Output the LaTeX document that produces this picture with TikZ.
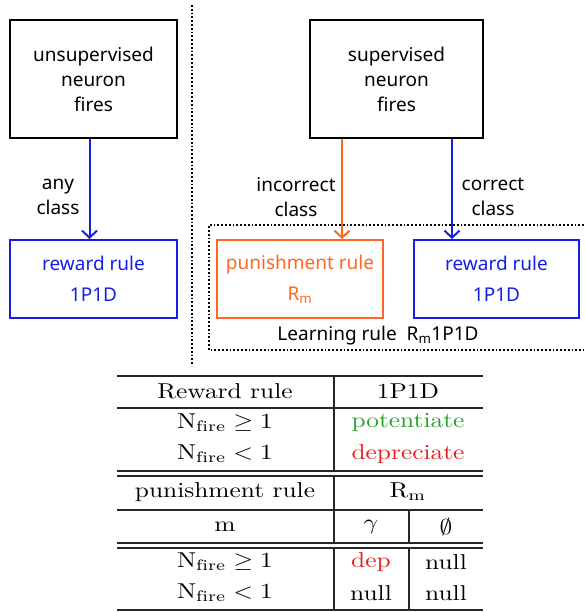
\documentclass[tikz,border=0pt]{standalone}
\usepackage{fontspec}
\newfontfamily\diagfont{Noto Sans}
\usetikzlibrary{arrows.meta}
\definecolor{rewblue}{RGB}{20,30,230}
\definecolor{punorange}{RGB}{255,102,34}
\definecolor{potgreen}{RGB}{40,160,40}
\definecolor{depred}{RGB}{230,30,30}
\newcommand{\tabcell}[1]{\scalebox{2.54}[2.15]{#1}}
\begin{document}
\begin{tikzpicture}[x=1pt, y=-1pt,
    every node/.style={inner sep=0pt},
    sanstext/.style={font=\diagfont\fontsize{19}{25}\selectfont, align=center},
    firebox/.style={sanstext, draw=black, line width=2pt},
    rulebox/.style={sanstext, line width=2pt, minimum width=166, minimum height=78},
    classarrow/.style={line width=2pt, -{Straight Barb[length=7pt, width=15pt, line width=2pt]}},
    tabline/.style={line width=1.3pt, draw=black!85}]
    \useasboundingbox (0,0) rectangle (584,612);

    % left half
    \node[firebox, minimum width=167, minimum height=118] (unsup) at (93.5,79) {unsupervised\\neuron\\fires};
    \node[rulebox, draw=rewblue, text=rewblue, minimum width=167] (lrew) at (93.5,279) {reward rule\\[6pt]1P1D};
    \draw[classarrow, rewblue] ([xshift=-4]unsup.south) -- ([xshift=-4]lrew.north);
    \node[sanstext] (anycls) at (58,197) {any\\class};

    % separator
    \draw[dotted, line width=1.8pt] (192,5) coordinate (septop) -- (192,365) coordinate (sepbot);

    % right half
    \node[firebox, minimum width=173, minimum height=118] (sup) at (396.5,79) {supervised\\neuron\\fires};
    \node[rulebox, draw=punorange, text=punorange] (pun) at (300,279) {punishment rule\\[6pt]R\textsubscript{m}};
    \node[rulebox, draw=rewblue, text=rewblue, minimum width=165] (rrew) at (496.5,279) {reward rule\\[6pt]1P1D};
    \draw[classarrow, punorange] ([xshift=33]sup.south west) -- ([xshift=33]sup.south west |- pun.north);
    \draw[classarrow, rewblue] ([xshift=143]sup.south west) -- ([xshift=143]sup.south west |- rrew.north);
    \node[sanstext] (incls) at (296,197) {incorrect\\class};
    \node[sanstext] (corcls) at (493,197) {correct\\class};

    % learning rule frame
    \draw[dotted, line width=1.8pt] (584,225) -- (209,225) -- (209,350) -- (584,350);
    \node[sanstext] (learn) at (378,336) {Learning rule \ R\textsubscript{m}1P1D};

    % table
    \path[tabline] (117,376) -- (483,376)
        (117,408) -- (483,408)
        (117,471) -- (483,471)
        (117,476) -- (483,476)
        (117,510) -- (483,510)
        (117,543) -- (483,543)
        (117,548) -- (483,548)
        (117,610) -- (483,610)
        (334,376) -- (334,471)
        (334,476) -- (334,543)
        (334,548) -- (334,610)
        (409,510) -- (409,543)
        (409,548) -- (409,610);

    \node (hrew) at (225,391) {\tabcell{Reward rule}};
    \node (hrewv) at (408,391) {\tabcell{1P1D}};
    \node (ra) at (225,423) {\tabcell{$\mathrm{N_{fire}}\geq 1$}};
    \node[text=potgreen] (rav) at (408,423) {\tabcell{potentiate}};
    \node (rb) at (225,454) {\tabcell{$\mathrm{N_{fire}}< 1$}};
    \node[text=depred] (rbv) at (408,454) {\tabcell{depreciate}};

    \node (hpun) at (225,492) {\tabcell{punishment rule}};
    \node (hpunv) at (408,492) {\tabcell{$\mathrm{R_m}$}};
    \node (hm) at (225,527) {\tabcell{m}};
    \node (hg) at (371,527) {\tabcell{$\gamma$}};
    \node (he) at (446,527) {\tabcell{$\emptyset$}};
    \node (pa) at (225,562) {\tabcell{$\mathrm{N_{fire}}\geq 1$}};
    \node[text=depred] (pag) at (371,562) {\tabcell{dep}};
    \node (pae) at (446,562) {\tabcell{null}};
    \node (pb) at (225,593) {\tabcell{$\mathrm{N_{fire}}< 1$}};
    \node (pbg) at (371,593) {\tabcell{null}};
    \node (pbe) at (446,593) {\tabcell{null}};
\end{tikzpicture}
\end{document}
